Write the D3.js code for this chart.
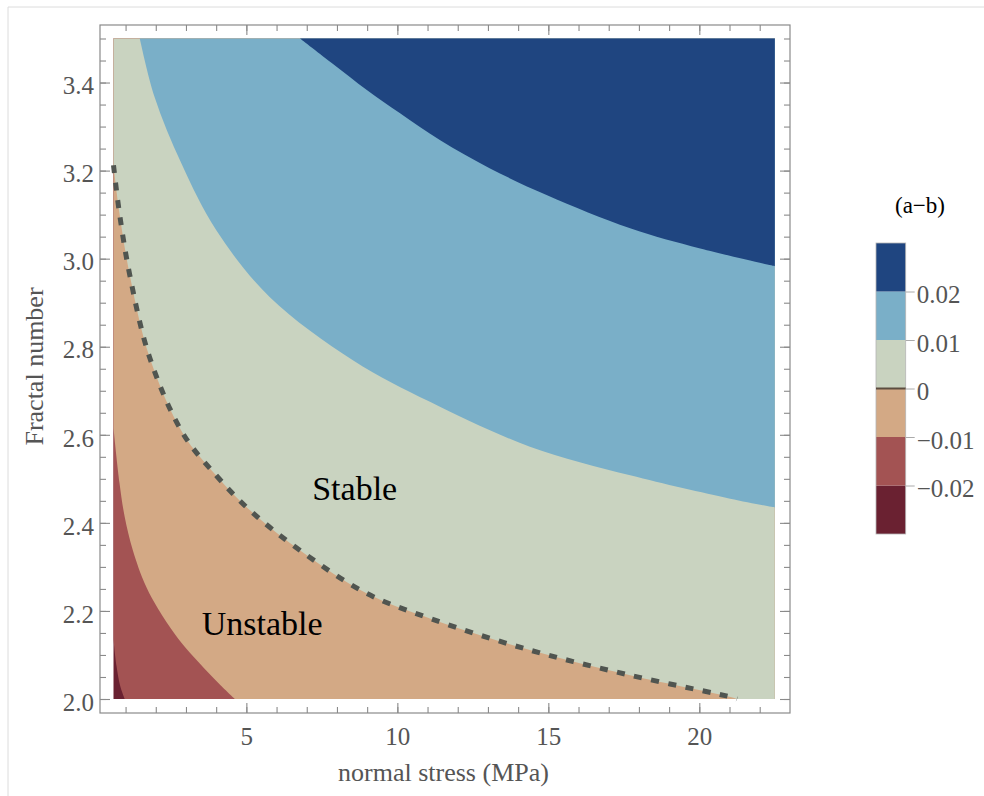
<!DOCTYPE html>
<html><head><meta charset="utf-8">
<script src="https://cdn.jsdelivr.net/npm/d3@7"></script>
<style>body{margin:0;background:#fff} svg{display:block}</style>
</head><body><svg id="c" width="984" height="796"></svg>
<script>
// ---- data ----
const xDomain = [0.6, 22.5];          // normal stress (MPa)
const yDomain = [2.0, 3.5];           // fractal number
const levels = [-0.02, -0.01, 0, 0.01, 0.02];
const legendRange = [-0.03, 0.03];
const bandColors = ["#6a2131", "#a35353", "#d3a985", "#c9d3c0", "#7aafc8", "#1f4580"];
const xTicksMajor = [5, 10, 15, 20];
const yTicksMajor = [2.0, 2.2, 2.4, 2.6, 2.8, 3.0, 3.2, 3.4];
const legendTicks = [0.02, 0.01, 0, -0.01, -0.02];
const legendLabels = ["0.02", "0.01", "0", "\u22120.01", "\u22120.02"];

// contour lines (normal stress, fractal number) for each level
const contourM002 = [[0.6,2.135],[0.7,2.075],[0.82,2.03],[0.97,2.0]];
const contourM001 = [[0.6,2.615],[0.8,2.49],[0.97,2.414],[1.24,2.338],[1.63,2.263],[1.95,2.22],[2.5,2.16],[3.0,2.115],[3.6,2.07],[4.12,2.033],[4.62,2.0]];
const contour0 = [[0.6,3.212],[0.8,3.102],[1.13,2.966],[1.8,2.775],[2.9,2.603],[4.01,2.507],[5.11,2.429],[6.77,2.338],[8.98,2.24],[11.08,2.183],[14.39,2.111],[17.71,2.054],[21.13,2.003],[21.25,2.0]];
const contour001 = [[1.47,3.5],[1.96,3.367],[2.85,3.216],[4.01,3.064],[5.77,2.913],[8.54,2.769],[11.08,2.675],[14.39,2.573],[17.71,2.508],[21.02,2.455],[22.5,2.435]];
const contour002 = [[6.78,3.5],[7.87,3.442],[8.99,3.383],[10.09,3.33],[11.42,3.269],[13.07,3.205],[14.96,3.144],[17.71,3.069],[20.03,3.023],[22.5,2.983]];
const contours = [contourM002, contourM001, contour0, contour001, contour002];

const labels = [{text:"Stable", x:7.18, y:2.452}, {text:"Unstable", x:3.52, y:2.145}];

// ---- drawing ----
const svg = d3.select("#c");
const serif = "'Liberation Serif', 'Times New Roman', serif";
const gray = "#555";
const axisCol = "#8a8a8a";

// outer screenshot border
svg.append("line").attr("x1",8).attr("y1",7).attr("x2",984).attr("y2",7).attr("stroke","#dcdcdc");
svg.append("line").attr("x1",8).attr("y1",7).attr("x2",8).attr("y2",796).attr("stroke","#dcdcdc");

const x = d3.scaleLinear(xDomain, [113.5, 774.8]);
const y = d3.scaleLinear(yDomain, [699, 38.5]);
const frame = {l:100, r:790, t:25, b:713};

// base band (lowest)
svg.append("rect").attr("x", x(xDomain[0])).attr("y", y(yDomain[1]))
  .attr("width", x(xDomain[1]) - x(xDomain[0])).attr("height", y(yDomain[0]) - y(yDomain[1]))
  .attr("fill", bandColors[0]);

const line = d3.line().x(d => x(d[0])).y(d => y(d[1])).curve(d3.curveCatmullRom.alpha(0.5));
contours.forEach((pts, i) => {
  const last = pts[pts.length - 1], first = pts[0];
  const p = line(pts) +
    `L${x(xDomain[1])},${y(last[1])}L${x(xDomain[1])},${y(yDomain[1])}L${x(first[0])},${y(yDomain[1])}Z`;
  svg.append("path").attr("d", p).attr("fill", bandColors[i + 1]);
});

// zero contour dashed
svg.append("path").attr("d", line(contour0)).attr("fill","none")
  .attr("stroke","#505550").attr("stroke-width",5).attr("stroke-dasharray","8,9.5");

// frame
svg.append("rect").attr("x", frame.l).attr("y", frame.t)
  .attr("width", frame.r - frame.l).attr("height", frame.b - frame.t)
  .attr("fill","none").attr("stroke", axisCol).attr("stroke-width",1.2);

function styleAxis(g) {
  g.select(".domain").remove();
  g.selectAll("line").attr("stroke", axisCol).attr("stroke-width", 1.1);
  g.selectAll("text").attr("fill", gray).style("font-family", serif).style("font-size", "25px");
}
const xMinor = d3.range(1, 23);
const yMinor = y.ticks(30);

// bottom
svg.append("g").attr("transform", `translate(0,${frame.b})`)
  .call(d3.axisBottom(x).tickValues(xMinor).tickSize(-6).tickFormat("")).call(styleAxis);
svg.append("g").attr("transform", `translate(0,${frame.b})`)
  .call(d3.axisBottom(x).tickValues(xTicksMajor).tickSize(-10).tickPadding(14).tickFormat(d3.format("d"))).call(styleAxis);
// top
svg.append("g").attr("transform", `translate(0,${frame.t})`)
  .call(d3.axisTop(x).tickValues(xMinor).tickSize(-6).tickFormat("")).call(styleAxis);
svg.append("g").attr("transform", `translate(0,${frame.t})`)
  .call(d3.axisTop(x).tickValues(xTicksMajor).tickSize(-10).tickFormat("")).call(styleAxis);
// left
svg.append("g").attr("transform", `translate(${frame.l},0)`)
  .call(d3.axisLeft(y).tickValues(yMinor).tickSize(-6).tickFormat("")).call(styleAxis);
const gl = svg.append("g").attr("transform", `translate(${frame.l},0)`)
  .call(d3.axisLeft(y).tickValues(yTicksMajor).tickSize(-10).tickPadding(6).tickFormat(d3.format(".1f"))).call(styleAxis);
gl.selectAll("text").attr("dy", "0.45em");
// right
svg.append("g").attr("transform", `translate(${frame.r},0)`)
  .call(d3.axisRight(y).tickValues(yMinor).tickSize(-6).tickFormat("")).call(styleAxis);
svg.append("g").attr("transform", `translate(${frame.r},0)`)
  .call(d3.axisRight(y).tickValues(yTicksMajor).tickSize(-10).tickFormat("")).call(styleAxis);

// axis titles
svg.append("text").attr("x", 443.5).attr("y", 781).attr("text-anchor","middle")
  .attr("fill", gray).style("font-family", serif).style("font-size","26px").text("normal stress (MPa)");
svg.append("text").attr("transform","translate(43,366.5) rotate(-90)").attr("text-anchor","middle")
  .attr("fill", gray).style("font-family", serif).style("font-size","26px").text("Fractal number");

// region labels
labels.forEach(l => {
  svg.append("text").attr("x", x(l.x)).attr("y", y(l.y)).attr("fill","#000")
    .style("font-family", serif).style("font-size","34px").text(l.text);
});

// colour legend
const ly = d3.scaleLinear(legendRange, [534, 243]);
const lx0 = 876, lx1 = 905.7;
const edges = [legendRange[0], ...levels, legendRange[1]];
bandColors.forEach((c, i) => {
  svg.append("rect").attr("x", lx0).attr("y", ly(edges[i + 1]))
    .attr("width", lx1 - lx0).attr("height", ly(edges[i]) - ly(edges[i + 1])).attr("fill", c);
});
svg.append("rect").attr("x", lx0).attr("y", ly(legendRange[1])).attr("width", lx1 - lx0)
  .attr("height", ly(legendRange[0]) - ly(legendRange[1])).attr("fill","none").attr("stroke","#b5b5b5").attr("stroke-width",0.8);
svg.append("line").attr("x1", lx0).attr("x2", lx1).attr("y1", ly(0)).attr("y2", ly(0))
  .attr("stroke","#5c4d40").attr("stroke-width",2);
const gleg = svg.append("g").attr("transform", `translate(${lx1},0)`)
  .call(d3.axisRight(ly).tickValues(legendTicks).tickSize(9).tickPadding(2).tickFormat((d, i) => legendLabels[i]));
gleg.select(".domain").remove();
gleg.selectAll("line").attr("stroke", "#aaa");
gleg.selectAll("text").attr("fill", gray).attr("dy","0.45em").style("font-family", serif).style("font-size","25px");
svg.append("text").attr("x", 920).attr("y", 213).attr("text-anchor","middle").attr("fill","#000")
  .style("font-family", serif).style("font-size","23px").text("(a\u2212b)");
</script>
</body></html>
